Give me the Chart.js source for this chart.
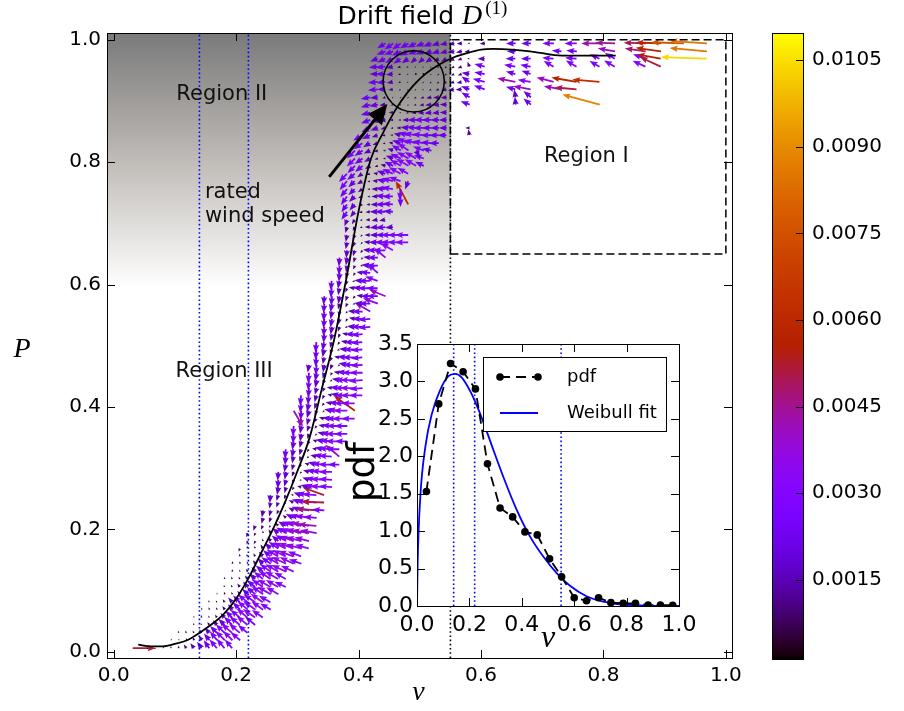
<!DOCTYPE html>
<html><head><meta charset="utf-8">
<script src="https://cdn.jsdelivr.net/npm/chart.js@4.4.1/dist/chart.umd.min.js"></script>
<style>
html,body{margin:0;padding:0;background:#fff;}
#wrap{position:relative;width:904px;height:711px;overflow:hidden;background:#fff;}
canvas{position:absolute;}
</style></head><body>
<div id="wrap">
<canvas id="main" width="904" height="711" style="left:0;top:0"></canvas>
<canvas id="cbar" width="164" height="711" style="left:740px;top:0"></canvas>
<canvas id="inset" width="380" height="330" style="left:340px;top:330px"></canvas>
</div>
<script>
// ---------------- DATA ----------------
const axisTicks = [0.0, 0.2, 0.4, 0.6, 0.8, 1.0];
const curveV = [0.04,0.06,0.08,0.10,0.12,0.14,0.16,0.18,0.20,0.22,0.24,0.26,0.28,0.30,0.32,0.34,0.36,0.38,0.40,0.42,0.44,0.46,0.48,0.50,0.52,0.55,0.58,0.60,0.62,0.65,0.68,0.70,0.72,0.75,0.78,0.80,0.82];
const curveP = [0.012,0.009,0.009,0.013,0.019,0.031,0.045,0.062,0.087,0.12,0.16,0.20,0.245,0.295,0.35,0.43,0.51,0.61,0.72,0.805,0.848,0.885,0.914,0.936,0.952,0.969,0.979,0.984,0.985,0.984,0.981,0.978,0.975,0.974,0.974,0.974,0.974];
const ratedLinesV = [0.14, 0.22];
const boundaryV = 0.55;
const regionIV = [0.55, 1.0];
const regionIP = [0.65, 1.0];
const shadeP = [0.595, 1.011];
const circleCenter = [0.49, 0.932];
const circleRadius = 0.05;
const annotTail = [0.352, 0.776];
const annotHead = [0.447, 0.895];
const labelTexts = ['Region II', 'Region I', 'Region III', 'rated', 'wind speed'];
const labelV = [0.1766, 0.772, 0.1804, 0.149, 0.149];
const labelP = [0.9015, 0.8007, 0.4497, 0.7408, 0.7025];

// drift field (quiver): rows of bins, bin width binW, angle in degrees, magnitude in 1e-4
const binW = 0.0125;
const rowP = [0.006,0.019,0.031,0.044,0.056,0.069,0.081,0.094,0.106,0.119,0.131,0.144,0.156,0.169,0.181,0.194,0.206,0.219,0.231,0.244,0.256,0.269,0.281,0.294,0.306,0.319,0.331,0.344,0.356,0.369,0.381,0.394,0.406,0.419,0.431,0.444,0.456,0.469,0.481,0.494,0.506,0.519,0.531,0.544,0.556,0.569,0.581,0.594,0.606,0.619,0.631,0.644,0.656,0.669,0.681,0.694,0.706,0.719,0.731,0.744,0.756,0.769,0.781,0.794,0.806,0.819,0.831,0.844,0.856,0.869,0.881,0.894,0.906,0.919,0.931,0.944,0.956,0.969,0.981,0.994];
const rowV0 = [0.031,0.094,0.106,0.131,0.131,0.144,0.156,0.169,0.181,0.181,0.194,0.194,0.206,0.206,0.219,0.219,0.231,0.244,0.244,0.256,0.256,0.269,0.269,0.269,0.281,0.281,0.281,0.294,0.294,0.294,0.306,0.294,0.306,0.306,0.319,0.319,0.319,0.319,0.331,0.331,0.331,0.344,0.344,0.344,0.344,0.344,0.344,0.356,0.356,0.369,0.369,0.369,0.381,0.381,0.381,0.381,0.381,0.381,0.381,0.381,0.381,0.381,0.381,0.394,0.394,0.394,0.406,0.406,0.419,0.419,0.419,0.419,0.419,0.431,0.431,0.431,0.431,0.431,0.444,0.444];
const rowAng = [
[0,0,180,180,90,90,90,125,125,125,125,130,130,130],
[90,90,100,120,125,130,130,135,135,140],
[100,110,120,125,130,135,135,140,140,140],
[110,110,120,130,135,135,140,140,140],
[90,100,110,120,130,135,140,140,145,145],
[100,110,115,125,130,135,140,145,145,150],
[110,120,120,130,135,140,145,145,150],
[100,110,120,130,135,140,145,150,150],
[110,120,125,130,140,145,150,150,155],
[90,110,120,125,135,140,145,150,150],
[100,110,120,130,140,145,150,155,155],
[90,100,110,125,135,145,150,155,155,160],
[100,110,120,130,140,150,155,160,160],
[250,100,110,120,135,145,155,160,165,165],
[250,240,110,125,140,150,160,165,165],
[250,240,100,120,140,150,160,165,170,170],
[250,245,230,130,150,160,165,170,175],
[255,250,240,140,155,165,170,175],
[260,255,245,200,150,160,170,175,175],
[260,250,220,150,160,170,175,178],
[265,255,245,160,160,170,175,160],
[260,255,240,165,165,170,175,175],
[265,255,245,200,160,170,175,175],
[265,260,250,230,165,170,175,180],
[260,255,240,160,165,175,180,180],
[265,260,250,220,165,170,175,140],
[265,260,255,240,170,170,175,180],
[260,255,245,160,170,175,180,180],
[265,260,250,220,165,175,180,180],
[265,260,250,230,170,175,180,180],
[260,255,240,165,175,180,180,180],
[300,265,255,245,220,170,175,180,145],
[265,260,250,230,170,175,180,180],
[265,265,255,245,165,170,180,180,180],
[265,255,245,170,175,180,180,185],
[265,260,250,210,170,180,180,185],
[265,260,255,240,170,175,180,180],
[260,265,260,250,220,170,180,185],
[265,260,245,170,175,180,185],
[265,260,250,200,175,180,185],
[265,260,255,240,170,180,185],
[265,260,250,170,180,185],
[265,260,250,200,175,180,185],
[265,260,255,240,170,180,185],
[265,260,255,230,175,180,150],
[265,260,255,245,200,175,180,160],
[265,265,260,250,230,170,180,180,158],
[265,260,250,170,175,180,180],
[265,260,250,200,175,180,160],
[265,255,240,170,175,140],
[265,260,245,190,175,180],
[265,260,255,230,175,180,140],
[265,255,240,175,180,180,150],
[260,250,230,175,180,180,180,180,180],
[260,250,220,180,180,180,180,180,180],
[255,245,200,180,185,185,185],
[250,240,210,185,190,190],
[235,230,200,185,180,180,175],
[235,230,210,185,180,180,175,0,118],
[235,225,200,185,180,175,180,270],
[230,225,215,190,180,175,170,265],
[230,225,210,195,175,170,165,160,250],
[225,220,215,200,170,160,155,150,150],
[225,220,210,200,165,155,150,150,150,155],
[225,215,210,195,180,160,155,150,150,160],
[225,215,205,195,185,160,150,145,300,160,170],
[215,210,200,190,170,160,155,165,170,175,180],
[210,205,200,190,175,165,165,170,175,180,180,180,0,0,100],
[205,200,195,190,180,175,175,180,180,180,180,0,0,180],
[200,195,190,185,180,180,180,180,180,180,180],
[195,190,185,180,190,200,190,185,185,185,180],
[195,190,185,200,210,220,200,190,185,185,180,0,0,160,0,0,0,0,0,95,0,140,0,0,0,0,0,0,0,0,165],
[190,185,200,220,230,220,210,200,190,185,185,0,0,150,0,0,0,0,0,100,0,140],
[185,180,190,220,230,230,220,210,200,195,190,185,160,0,160,0,0,0,165,0,170,0,0,0,170,0,175],
[185,185,190,200,220,230,240,230,220,210,200,190,145,0,165,0,0,0,168,0,170,0,0,165,0,0,170,0,0,175],
[180,180,185,200,220,240,250,240,230,220,210,200,170,0,170,0,0,0,165,0,160],
[185,185,190,200,210,220,230,240,230,220,210,200,110,0,165,0,0,0,170,0,170,0,0,150,0,0,150,0,0,150,0,150,0,0,0,155,0,155],
[200,205,210,215,215,220,220,215,210,210,205,200,180,0,180,0,0,0,180,0,180,0,0,175,0,0,175,0,0,155,0,150,0,0,0,160,0,170,0,0,0,0,0,178],
[200,200,205,205,200,200,200,195,195,190,190,185,0,0,0,0,0,180,0,0,0,0,0,175,0,175,0,0,0,0,170,0,0,0,172,0,172,0,0,0,0,0,175],
[210,215,215,210,205,200,200,195,190,190,185,180,0,185,0,0,0,180,0,180,0,0,180,0,0,180,0,0,180,0,178,0,0,0,178,0,178,0,0,178,0,0,176]
];
const rowMag = [
[52,0,4,4,4,5,6,10,14,18,22,26,28,26],
[4,4,5,8,14,20,26,30,30,28],
[5,6,6,10,16,22,28,32,32,28],
[5,5,8,14,20,26,30,32,30],
[4,6,5,8,14,22,28,32,34,30],
[5,6,6,10,16,24,30,34,32,28],
[5,5,8,14,22,28,32,34,30],
[4,6,6,10,18,26,32,35,32],
[5,6,10,16,24,30,34,32,28],
[5,6,6,10,18,26,32,34,30],
[6,5,8,14,22,30,34,36,32],
[6,6,6,10,18,26,32,36,35,30],
[6,6,8,14,22,30,34,36,32],
[8,6,6,10,18,26,32,36,36,32],
[8,8,6,12,20,28,34,36,34],
[10,8,6,10,18,26,32,36,40,38],
[12,10,6,10,20,28,34,40,42],
[14,12,8,10,20,28,32,30],
[16,14,10,5,14,24,30,48,28],
[14,12,6,12,22,30,34,52],
[18,14,10,6,18,28,32,52],
[18,14,8,10,20,28,32,30],
[20,16,10,5,16,26,32,30],
[20,18,12,6,14,24,30,30],
[18,14,8,10,20,28,30,26],
[20,16,12,6,14,24,30,42],
[22,20,14,8,10,22,30,30],
[20,16,10,10,20,28,32,28],
[22,18,12,6,16,26,32,30],
[24,18,14,8,14,24,30,30],
[20,16,10,12,22,30,34,30],
[42,22,18,12,6,18,28,32,58],
[22,20,14,8,14,24,30,30],
[24,22,16,10,10,20,28,32,30],
[22,16,10,12,22,30,34,30],
[24,18,12,6,18,28,34,32],
[24,20,14,8,14,24,30,30],
[18,24,18,12,6,20,28,28],
[22,16,10,12,22,28,26],
[24,18,12,6,18,26,26],
[24,20,14,8,14,24,26],
[20,16,10,12,22,26],
[22,18,12,6,18,26,28],
[22,20,14,8,14,24,28],
[22,18,12,6,16,24,40],
[22,20,14,10,6,18,26,36],
[20,22,18,12,8,14,22,26,40],
[22,16,10,14,22,28,26],
[22,18,12,6,18,26,30],
[20,14,8,14,24,32],
[22,16,10,6,20,26],
[20,18,12,6,16,24,34],
[18,14,8,16,24,28,32],
[16,12,6,14,20,24,28,30,30],
[16,12,6,12,18,22,28,30,30],
[14,10,6,12,18,22,18],
[16,12,6,10,14,14],
[22,16,8,10,18,24,22],
[22,18,8,8,16,22,24,0,60],
[24,18,10,6,14,22,24,24],
[24,20,12,6,14,22,26,26],
[26,20,14,6,12,20,26,28,20],
[26,22,14,8,10,20,26,30,28],
[24,22,14,8,12,22,28,32,30,22],
[26,22,16,8,6,18,26,30,30,24],
[26,22,16,10,6,14,24,30,18,26,22],
[24,18,12,6,10,20,28,28,26,24,22],
[24,20,14,8,6,16,24,28,26,24,22,20,0,0,14],
[22,18,12,6,10,18,22,24,22,20,18,0,0,10],
[22,18,14,8,6,14,20,22,22,20,18],
[22,20,14,10,4,6,10,14,16,16,16],
[22,20,14,6,4,4,6,10,14,16,16,0,0,22,0,0,0,0,0,18,0,22,0,0,0,0,0,0,0,0,88],
[22,18,8,4,4,4,6,8,12,14,14,0,0,22,0,0,0,0,0,18,0,22],
[22,18,10,5,4,4,4,6,8,12,14,14,20,0,26,0,0,0,22,0,40,0,0,0,40,0,50],
[22,20,14,6,4,4,4,5,6,8,10,12,22,0,28,0,0,0,42,0,30,0,0,40,0,0,58,0,0,62],
[18,22,16,6,4,3,3,4,5,6,8,10,18,0,24,0,0,0,22,0,22],
[20,22,16,8,5,4,4,4,5,6,8,10,12,0,24,0,0,0,26,0,24,0,0,26,0,0,28,0,0,26,0,28,0,0,0,32,0,52],
[18,20,20,20,18,16,16,16,14,14,12,10,5,0,16,0,0,0,22,0,22,0,0,26,0,0,26,0,0,24,0,26,0,0,0,30,0,55,0,0,0,0,0,104],
[22,22,22,22,20,20,18,18,16,16,14,12,0,0,0,0,0,20,0,0,0,0,0,22,0,24,0,0,0,0,40,0,0,0,48,0,58,0,0,0,0,0,85],
[22,24,24,22,22,20,20,18,16,14,12,5,0,12,0,0,0,22,0,22,0,0,26,0,0,28,0,0,42,0,45,0,0,0,50,0,58,0,0,75,0,0,85]
];

// colorbar
const cbarMin = 0.00013, cbarMax = 0.01097, cbarStep = 0.0015;

// inset: pdf and Weibull fit
const pdfV   = [0.036,0.083,0.128,0.176,0.223,0.269,0.317,0.365,0.412,0.459,0.506,0.552,0.600,0.647,0.693,0.740,0.787,0.834,0.882,0.929,0.976];
const pdfVal = [1.53,2.70,3.24,3.13,2.90,1.90,1.31,1.19,0.99,0.95,0.63,0.39,0.11,0.07,0.11,0.045,0.036,0.036,0.013,0.013,0.009];
const weibullV   = [0,0.0025,0.0127,0.032,0.057,0.089,0.12,0.146,0.171,0.203,0.228,0.254,0.292,0.33,0.381,0.431,0.482,0.533,0.584,0.647,0.71,0.787,0.9,1.0];
const weibullPdf = [0,0.57,1.46,2.13,2.57,2.89,3.07,3.10,3.05,2.87,2.68,2.45,2.08,1.72,1.28,0.93,0.66,0.44,0.27,0.13,0.06,0.02,0.003,0];
const insetLinesV = [0.14, 0.22, 0.55];
const legendLabels = ['pdf', 'Weibull fit'];

// ---------------- STYLE / HELPERS ----------------
const V_MIN = -0.011, V_MAX = 1.01, P_MIN = -0.01, P_MAX = 1.011;
const quiverPxPerUnit = 0.44;   // px per 1e-4 of drift magnitude
Chart.defaults.font.family = '"DejaVu Sans", sans-serif';
Chart.defaults.color = '#000';
Chart.defaults.animation = false;

function gnuplotColor(t) {
  t = Math.max(0, Math.min(1, t));
  const r = Math.sqrt(t), g = t * t * t, b = Math.max(0, Math.sin(2 * Math.PI * t));
  return `rgb(${Math.round(r*255)},${Math.round(g*255)},${Math.round(b*255)})`;
}
function drawQuiverArrow(ctx, x0, y0, angDeg, L, color) {
  const th = angDeg * Math.PI / 180, ux = Math.cos(th), uy = -Math.sin(th);
  const nx = -uy, ny = ux;
  ctx.fillStyle = color;
  if (L < 1.5) { ctx.beginPath(); ctx.arc(x0, y0, 0.9, 0, 2*Math.PI); ctx.fill(); return; }
  const hl = 8, hw = 6.2, hal = 7, w = 1.8;
  const s = L < hl ? L / hl : 1;
  const W = w*s/2, HL = hl*s, HW = hw*s/2, HAL = hal*s;
  const pts = [[0,-W],[L-HAL,-W],[L-HL,-HW],[L,0],[L-HL,HW],[L-HAL,W],[0,W]];
  ctx.beginPath();
  pts.forEach((p, i) => {
    const X = x0 + ux*p[0] + nx*p[1], Y = y0 + uy*p[0] + ny*p[1];
    if (i === 0) ctx.moveTo(X, Y); else ctx.lineTo(X, Y);
  });
  ctx.closePath(); ctx.fill();
}
function drawFrameAndTicks(ctx, a, xs, ys, len) {
  ctx.save();
  ctx.strokeStyle = '#000'; ctx.lineWidth = 1;
  ctx.strokeRect(Math.round(a.left)+0.5, Math.round(a.top)+0.5, Math.round(a.right-a.left), Math.round(a.bottom-a.top));
  ctx.beginPath();
  if (xs) xs.ticks.forEach(t => {
    const px = Math.round(xs.getPixelForValue(t.value)) + 0.5;
    ctx.moveTo(px, a.bottom); ctx.lineTo(px, a.bottom - len);
    ctx.moveTo(px, a.top); ctx.lineTo(px, a.top + len);
  });
  if (ys) ys.ticks.forEach(t => {
    const py = Math.round(ys.getPixelForValue(t.value)) + 0.5;
    ctx.moveTo(a.left, py); ctx.lineTo(a.left + len, py);
    ctx.moveTo(a.right, py); ctx.lineTo(a.right - len, py);
  });
  ctx.stroke();
  ctx.restore();
}
function pts(xs, ys) { return xs.map((v, i) => ({x: v, y: ys[i]})); }
const dotted = { borderWidth: 1.6, borderDash: [1.6, 2.6], pointRadius: 0, showLine: true };

// ---------------- MAIN CHART ----------------
const mainPlugin = {
  id: 'mainDecor',
  beforeDatasetsDraw(chart) {
    const {ctx, chartArea: a, scales: {x, y}} = chart;
    ctx.save();
    ctx.beginPath(); ctx.rect(a.left, a.top, a.right - a.left, a.bottom - a.top); ctx.clip();
    const gx1 = x.getPixelForValue(boundaryV);
    const gTop = y.getPixelForValue(shadeP[1]), gBot = y.getPixelForValue(shadeP[0]);
    const g = ctx.createLinearGradient(0, gTop, 0, gBot);
    g.addColorStop(0, 'rgb(122,122,122)');
    g.addColorStop(0.5, 'rgb(192,187,183)');
    g.addColorStop(1, 'rgb(255,255,255)');
    ctx.fillStyle = g;
    ctx.fillRect(a.left, gTop, gx1 - a.left, gBot - gTop);
    for (let j = 0; j < rowP.length; j++) {
      const py = y.getPixelForValue(rowP[j]);
      const angs = rowAng[j], mags = rowMag[j];
      for (let i = 0; i < angs.length; i++) {
        if (!mags[i]) continue;
        const px = x.getPixelForValue(rowV0[j] + i * binW);
        const m = mags[i] * 1e-4;
        drawQuiverArrow(ctx, px, py, angs[i], mags[i] * quiverPxPerUnit,
          gnuplotColor((m - cbarMin) / (cbarMax - cbarMin)));
      }
    }
    ctx.restore();
  },
  afterDatasetsDraw(chart) {
    const {ctx, chartArea: a, scales: {x, y}} = chart;
    ctx.save();
    const cx = x.getPixelForValue(circleCenter[0]), cy = y.getPixelForValue(circleCenter[1]);
    const rx = x.getPixelForValue(circleCenter[0] + circleRadius) - cx;
    const ry = cy - y.getPixelForValue(circleCenter[1] + circleRadius);
    ctx.strokeStyle = '#000'; ctx.lineWidth = 1.5;
    ctx.beginPath(); ctx.ellipse(cx, cy, rx, ry, 0, 0, 2*Math.PI); ctx.stroke();
    const tx = x.getPixelForValue(annotTail[0]), ty = y.getPixelForValue(annotTail[1]);
    const hx = x.getPixelForValue(annotHead[0]), hy = y.getPixelForValue(annotHead[1]);
    const dx = hx - tx, dy = hy - ty, len = Math.hypot(dx, dy), ux = dx/len, uy = dy/len;
    const hl = 20, hw = 9;
    ctx.lineWidth = 3; ctx.lineCap = 'butt';
    ctx.beginPath(); ctx.moveTo(tx, ty); ctx.lineTo(hx - ux*hl, hy - uy*hl); ctx.stroke();
    ctx.fillStyle = '#000';
    ctx.beginPath();
    ctx.moveTo(hx, hy);
    ctx.lineTo(hx - ux*hl - uy*hw, hy - uy*hl + ux*hw);
    ctx.lineTo(hx - ux*hl + uy*hw, hy - uy*hl - ux*hw);
    ctx.closePath(); ctx.fill();
    ctx.fillStyle = '#111';
    ctx.font = '21px "DejaVu Sans"';
    ctx.textBaseline = 'alphabetic';
    labelTexts.forEach((t, i) => {
      ctx.textAlign = i < 3 ? 'center' : 'left';
      ctx.fillText(t, x.getPixelForValue(labelV[i]), y.getPixelForValue(labelP[i]));
    });
    ctx.restore();
    drawFrameAndTicks(ctx, a, x, y, 8);
  },
  afterDraw(chart) {
    const {ctx, chartArea: a} = chart;
    ctx.save();
    ctx.fillStyle = '#000';
    ctx.textBaseline = 'alphabetic';
    const f1 = '25px "DejaVu Sans"', f2 = 'italic 28px "Liberation Serif"', f3 = '19px "Liberation Serif"';
    ctx.font = f1; const w1 = ctx.measureText('Drift field ').width;
    ctx.font = f2; const w2 = ctx.measureText('D').width + 3;
    ctx.font = f3; const w3 = ctx.measureText('(1)').width;
    let sx = (a.left + a.right) / 2 - (w1 + w2 + w3) / 2 + 3;
    ctx.textAlign = 'left';
    ctx.font = f1; ctx.fillText('Drift field ', sx, 24);
    ctx.font = f2; ctx.fillText('D', sx + w1, 24);
    ctx.font = f3; ctx.fillText('(1)', sx + w1 + w2, 14);
    ctx.font = 'italic 28px "Liberation Serif"';
    ctx.textAlign = 'center';
    ctx.fillText('v', (a.left + a.right) / 2 - 1, 700);
    ctx.fillText('P', 22, 357);
    ctx.restore();
  }
};

new Chart(document.getElementById('main'), {
  type: 'scatter',
  data: { datasets: [
    { data: pts(curveV, curveP), showLine: true, borderColor: '#000', borderWidth: 1.8, pointRadius: 0, cubicInterpolationMode: 'monotone' },
    { data: pts([regionIV[0], regionIV[1], regionIV[1], regionIV[0], regionIV[0]], [regionIP[0], regionIP[0], regionIP[1], regionIP[1], regionIP[0]]),
      showLine: true, borderColor: '#000', borderWidth: 1.5, borderDash: [8, 4], pointRadius: 0 },
    { data: pts([boundaryV, boundaryV], [P_MIN, P_MAX]), borderColor: '#000', ...dotted },
    { data: pts([ratedLinesV[0], ratedLinesV[0]], [P_MIN, P_MAX]), borderColor: '#0000ff', ...dotted },
    { data: pts([ratedLinesV[1], ratedLinesV[1]], [P_MIN, P_MAX]), borderColor: '#0000ff', ...dotted }
  ]},
  options: {
    responsive: false, animation: false, devicePixelRatio: 1,
    layout: { padding: { left: 0, top: 33, right: 172, bottom: 0 } },
    plugins: { legend: { display: false }, tooltip: { enabled: false } },
    scales: {
      x: { type: 'linear', min: V_MIN, max: V_MAX,
        ticks: { stepSize: 0.2, includeBounds: false, padding: 6, font: { size: 20 }, maxRotation: 0, callback: v => v.toFixed(1) },
        grid: { display: false, drawTicks: false }, border: { display: false },
        afterFit(s) { s.height = 53; s.paddingLeft = 0; s.paddingRight = 0; } },
      y: { type: 'linear', min: P_MIN, max: P_MAX,
        ticks: { stepSize: 0.2, includeBounds: false, padding: 6, font: { size: 20 }, callback: v => v.toFixed(1) },
        grid: { display: false, drawTicks: false }, border: { display: false },
        afterFit(s) { s.width = 107; s.paddingTop = 0; s.paddingBottom = 0; } }
    }
  },
  plugins: [mainPlugin]
});

// ---------------- COLORBAR ----------------
new Chart(document.getElementById('cbar'), {
  type: 'scatter',
  data: { datasets: [{ data: [] }] },
  options: {
    responsive: false, animation: false, devicePixelRatio: 1,
    layout: { padding: { left: 32, top: 33, right: 0, bottom: 52 } },
    plugins: { legend: { display: false }, tooltip: { enabled: false } },
    scales: {
      x: { display: false, min: 0, max: 1 },
      y: { position: 'right', min: cbarMin, max: cbarMax,
        ticks: { stepSize: cbarStep, includeBounds: false, padding: 9, font: { size: 20 }, callback: v => v.toFixed(4) },
        grid: { display: false, drawTicks: false }, border: { display: false },
        afterFit(s) { s.width = 101; s.paddingTop = 0; s.paddingBottom = 0; } }
    }
  },
  plugins: [{
    id: 'cbarDraw',
    beforeDatasetsDraw(chart) {
      const {ctx, chartArea: a, scales: {y}} = chart;
      for (let py = Math.floor(a.top); py < a.bottom; py++) {
        const val = y.getValueForPixel(py + 0.5);
        ctx.fillStyle = gnuplotColor((val - cbarMin) / (cbarMax - cbarMin));
        ctx.fillRect(a.left, py, a.right - a.left, 1);
      }
      ctx.save();
      ctx.strokeStyle = '#000'; ctx.lineWidth = 1;
      ctx.strokeRect(Math.round(a.left)+0.5, Math.round(a.top)+0.5, Math.round(a.right-a.left), Math.round(a.bottom-a.top));
      ctx.beginPath();
      y.ticks.forEach(t => {
        const py = Math.round(y.getPixelForValue(t.value)) + 0.5;
        ctx.moveTo(a.right - 7, py); ctx.lineTo(a.right, py);
      });
      ctx.stroke();
      ctx.restore();
    }
  }]
});

// ---------------- INSET ----------------
const insetPlugin = {
  id: 'insetDecor',
  beforeDatasetsDraw(chart) {
    const {ctx, chartArea: a} = chart;
    ctx.save(); ctx.fillStyle = '#fff';
    ctx.fillRect(a.left, a.top, a.right - a.left, a.bottom - a.top);
    ctx.restore();
  },
  afterDatasetsDraw(chart) {
    const {ctx, chartArea: a, scales: {x, y}} = chart;
    drawFrameAndTicks(ctx, a, x, y, 8);
    ctx.save();
    const lx = a.left + 66, ly = a.top + 13, lw = 183, lh = 74;
    ctx.fillStyle = '#fff'; ctx.fillRect(lx, ly, lw, lh);
    ctx.strokeStyle = '#000'; ctx.lineWidth = 1;
    ctx.strokeRect(Math.round(lx)+0.5, Math.round(ly)+0.5, lw, lh);
    const sx0 = lx + 17, sx1 = lx + 55, y1 = ly + 20, y2 = ly + 56;
    ctx.lineWidth = 1.8; ctx.strokeStyle = '#000'; ctx.setLineDash([10, 6]);
    ctx.beginPath(); ctx.moveTo(sx0, y1); ctx.lineTo(sx1, y1); ctx.stroke();
    ctx.setLineDash([]);
    ctx.fillStyle = '#000';
    [sx0, sx1].forEach(px => { ctx.beginPath(); ctx.arc(px, y1, 3.8, 0, 2*Math.PI); ctx.fill(); });
    ctx.strokeStyle = '#0000ff';
    ctx.beginPath(); ctx.moveTo(sx0, y2); ctx.lineTo(sx1, y2); ctx.stroke();
    ctx.font = '18px "DejaVu Sans"'; ctx.textAlign = 'left'; ctx.textBaseline = 'middle';
    ctx.fillText(legendLabels[0], lx + 84, y1);
    ctx.fillText(legendLabels[1], lx + 84, y2);
    ctx.restore();
  },
  afterDraw(chart) {
    const {ctx, chartArea: a} = chart;
    ctx.save();
    ctx.fillStyle = '#000';
    ctx.font = '37px "DejaVu Sans"'; ctx.textAlign = 'center'; ctx.textBaseline = 'middle';
    ctx.translate(a.left - 53, (a.top + a.bottom) / 2 - 3);
    ctx.rotate(-Math.PI / 2);
    ctx.fillText('pdf', 0, 0);
    ctx.restore();
    ctx.save();
    ctx.fillStyle = '#000';
    ctx.font = 'italic 32px "Liberation Serif"'; ctx.textAlign = 'center'; ctx.textBaseline = 'alphabetic';
    ctx.fillText('v', (a.left + a.right) / 2, 317);
    ctx.restore();
  }
};
const insetVLines = insetLinesV.map(v => ({ data: pts([v, v], [0, 3.5]), borderColor: '#0000ff', ...dotted }));
new Chart(document.getElementById('inset'), {
  type: 'scatter',
  data: { datasets: [
    { data: pts(pdfV, pdfVal), showLine: true, borderColor: '#000', borderWidth: 1.8, borderDash: [10, 6], pointRadius: 3.8, pointBackgroundColor: '#000', pointBorderColor: '#000', pointBorderWidth: 0 },
    { data: pts(weibullV, weibullPdf), showLine: true, borderColor: '#0000ff', borderWidth: 1.8, pointRadius: 0, cubicInterpolationMode: 'monotone' },
    ...insetVLines
  ]},
  options: {
    responsive: false, animation: false, devicePixelRatio: 1,
    layout: { padding: { left: 0, top: 14, right: 41, bottom: 0 } },
    plugins: { legend: { display: false }, tooltip: { enabled: false } },
    scales: {
      x: { type: 'linear', min: 0, max: 1,
        ticks: { stepSize: 0.2, includeBounds: false, padding: 6, font: { size: 22 }, maxRotation: 0, callback: v => v.toFixed(1) },
        grid: { display: false, drawTicks: false }, border: { display: false },
        afterFit(s) { s.height = 54; s.paddingLeft = 0; s.paddingRight = 0; } },
      y: { type: 'linear', min: 0, max: 3.5,
        ticks: { stepSize: 0.5, includeBounds: false, padding: 4, font: { size: 22 }, callback: v => v.toFixed(1) },
        grid: { display: false, drawTicks: false }, border: { display: false },
        afterFit(s) { s.width = 77; s.paddingTop = 0; s.paddingBottom = 0; } }
    }
  },
  plugins: [insetPlugin]
});
</script>
</body></html>
